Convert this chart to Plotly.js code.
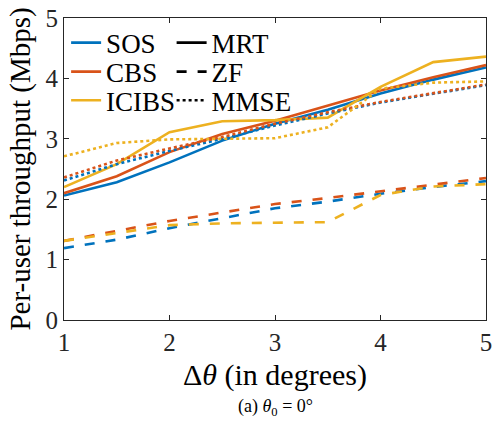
<!DOCTYPE html>
<html>
<head>
<meta charset="utf-8">
<script src="https://cdn.plot.ly/plotly-3.0.1.min.js"></script>
<style>html,body{margin:0;padding:0;background:#fff;}#chart{width:498px;height:429px;}
#chart text{font-family:"Liberation Serif", serif !important;}</style>
</head>
<body>
<div id="chart"></div>
<script>
const deltaTheta = [1, 1.5, 2, 2.5, 3, 3.5, 4, 4.5, 5];
const sosMRT   = [2.06, 2.28, 2.61, 2.97, 3.25, 3.48, 3.75, 3.98, 4.18];
const cbsMRT   = [2.10, 2.38, 2.78, 3.08, 3.30, 3.55, 3.80, 4.02, 4.22];
const icibsMRT = [2.20, 2.58, 3.11, 3.29, 3.31, 3.35, 3.86, 4.27, 4.36];
const sosZF    = [1.19, 1.33, 1.52, 1.69, 1.85, 1.96, 2.09, 2.20, 2.30];
const cbsZF    = [1.31, 1.47, 1.64, 1.78, 1.92, 2.02, 2.13, 2.25, 2.35];
const icibsZF  = [1.31, 1.44, 1.57, 1.60, 1.61, 1.62, 2.07, 2.21, 2.25];
const sosMMSE  = [2.31, 2.58, 2.80, 3.00, 3.22, 3.42, 3.60, 3.75, 3.89];
const cbsMMSE  = [2.36, 2.64, 2.84, 3.03, 3.25, 3.44, 3.61, 3.76, 3.90];
const icibsMMSE= [2.71, 2.93, 2.99, 3.00, 3.01, 3.19, 3.83, 3.93, 3.95];

const schemeNames = ['SOS', 'CBS', 'ICIBS'];
const receiverNames = ['MRT', 'ZF', 'MMSE'];
const schemeColors = {SOS: '#0072BD', CBS: '#D95319', ICIBS: '#EDB120'};
const receiverDash = {MRT: 'solid', ZF: '10px,11px', MMSE: '3px,3px'};
const seriesTable = {
  SOS:   {MRT: sosMRT,   ZF: sosZF,   MMSE: sosMMSE},
  CBS:   {MRT: cbsMRT,   ZF: cbsZF,   MMSE: cbsMMSE},
  ICIBS: {MRT: icibsMRT, ZF: icibsZF, MMSE: icibsMMSE}
};

const FAMILY = 'Liberation Serif';
const traces = [];
receiverNames.forEach(r => {
  schemeNames.forEach(s => {
    traces.push({x: deltaTheta, y: seriesTable[s][r], mode: 'lines',
      line: {color: schemeColors[s], width: 2.6, dash: receiverDash[r]}, showlegend: false});
  });
});

const rowY = [0.917, 0.821, 0.726];
const layout = {
  width: 498, height: 429,
  font: {family: FAMILY},
  margin: {l: 64, r: 12, t: 18, b: 109},
  xaxis: {range: [1, 5], tickvals: [1, 2, 3, 4, 5],
    showgrid: false, zeroline: false, showline: true, mirror: 'allticks',
    linecolor: '#262626', linewidth: 1, ticks: 'inside', ticklen: 5, tickcolor: '#262626',
    tickfont: {family: FAMILY, size: 25, color: '#262626'},
    title: {text: 'Δ<i>θ</i> (in degrees)', font: {family: FAMILY, size: 30, color: '#000'}, standoff: 8}},
  yaxis: {range: [0, 5], tickvals: [0, 1, 2, 3, 4, 5],
    showgrid: false, zeroline: false, showline: true, mirror: 'allticks',
    linecolor: '#262626', linewidth: 1, ticks: 'inside', ticklen: 5, tickcolor: '#262626',
    tickfont: {family: FAMILY, size: 25, color: '#262626'},
    title: {text: 'Per-user throughput (Mbps)', font: {family: FAMILY, size: 29, color: '#000'}, standoff: 6}},
  annotations: [{text: '(a) <i>θ</i><sub>0</sub> = 0°', xref: 'paper', yref: 'paper',
    x: 0.5, y: -0.289, xanchor: 'center', yanchor: 'middle', showarrow: false,
    font: {family: FAMILY, size: 18, color: '#000'}}]
};

let li = 1;
schemeNames.forEach((s, i) => {
  const key = li === 1 ? 'legend' : 'legend' + li;
  traces.push({x: [null], y: [null], mode: 'lines', name: s, legend: key,
    line: {color: schemeColors[s], width: 2.6}});
  layout[key] = {x: 0.005, y: rowY[i], xanchor: 'left', yanchor: 'middle',
    bgcolor: 'rgba(0,0,0,0)', font: {family: FAMILY, size: 27, color: '#000'}};
  li++;
});
receiverNames.forEach((r, i) => {
  const key = 'legend' + li;
  traces.push({x: [null], y: [null], mode: 'lines', name: r, legend: key,
    line: {color: '#000', width: 2.6, dash: receiverDash[r]}});
  layout[key] = {x: 0.255, y: rowY[i], xanchor: 'left', yanchor: 'middle',
    bgcolor: 'rgba(0,0,0,0)', font: {family: FAMILY, size: 27, color: '#000'}};
  li++;
});

function forceFamily() {
  document.querySelectorAll('#chart text').forEach(t => {
    t.style.setProperty('font-family', '"Liberation Serif", serif', 'important');
  });
}

Plotly.newPlot('chart', traces, layout, {staticPlot: true});
forceFamily();
setTimeout(forceFamily, 30);
</script>
</body>
</html>
